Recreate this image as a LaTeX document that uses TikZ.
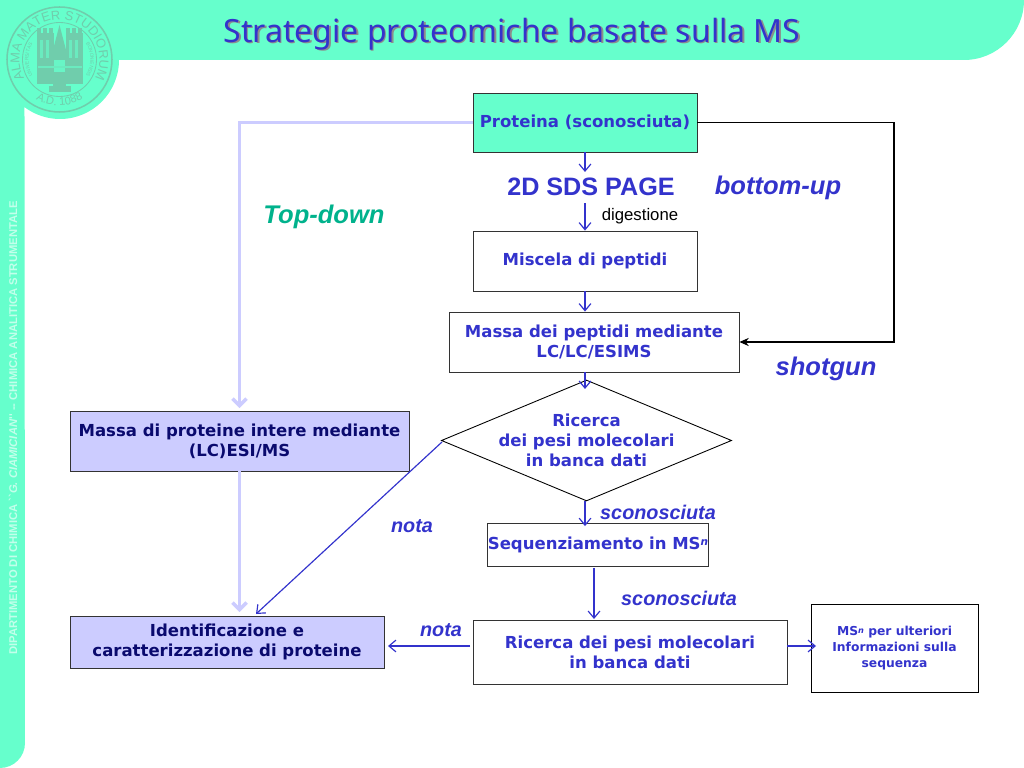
\documentclass[tikz,border=0pt]{standalone}
\usepackage{fontspec}
\setmainfont{DejaVu Sans}
\newfontfamily\arialFont{Liberation Sans}
\newfontfamily\titleFont{Noto Sans}
\usetikzlibrary{shapes.geometric,decorations.text,arrows.meta}
\definecolor{bandColor}{RGB}{102,255,204}
\definecolor{sealColor}{RGB}{112,205,172}
\definecolor{inkColor}{RGB}{51,51,204}
\definecolor{navyColor}{RGB}{10,10,110}
\definecolor{lilacColor}{RGB}{204,204,255}
\definecolor{sideColor}{RGB}{195,255,235}
\definecolor{greenTag}{RGB}{0,178,140}
\tikzstyle{plate} = [x = .03cm, y = -.03cm]
\tikzstyle{stepBox} = [draw=black!80, line width=.75pt, inner sep=0pt, align=center, text=inkColor, font=\fontsize{14.1}{17}\selectfont\bfseries]
\tikzstyle{blueArrow} = [draw=inkColor, line width=1pt, -{Straight Barb[length=6pt,width=10pt]}]
\tikzstyle{lilacArrow} = [draw=lilacColor, line width=3pt, -{Straight Barb[length=6pt,width=12pt]}]
\tikzstyle{blackArrow} = [draw=black, line width=1pt, -{Stealth[length=8pt,width=7pt]}]
\tikzstyle{tagText} = [text=inkColor, font=\arialFont\bfseries\itshape\fontsize{16.9}{20}\selectfont, inner sep=0pt]
\tikzstyle{bigTag} = [tagText, font=\arialFont\bfseries\itshape\fontsize{21.8}{26}\selectfont]
\tikzstyle{sealText} = [postaction={decorate}]
\newcommand{\stepNode}[7]{\node [stepBox, fill=#2, minimum width=#5*.03cm, minimum height=#6*.03cm] (#1) at (#3, #4) {#7};}
\begin{document}
\begin{tikzpicture}[plate]
  \useasboundingbox (0,0) rectangle (1024,768);
  % band and seal
  \fill [bandColor] (0,0) -- (1024,0) arc [start angle=0, end angle=90, radius=60] -- (119,60)
    arc [start angle=0, end angle=127, radius=59] -- (25,743)
    arc [start angle=0, end angle=90, radius=25] -- cycle;
  \begin{scope}[sealColor]
    \draw [line width=1.3pt] (59.5,59.5) circle [radius=52.5];
    \draw [line width=.7pt] (59.5,59.5) circle [radius=37];
    \path [sealText, decoration={text along path, text align=center,
      text={|\arialFont\fontsize{11}{13}\selectfont\color{sealColor}|ALMA MATER STUDIORUM}}]
      (59.5,59.5) ++(150:40) arc [start angle=150, delta angle=240, radius=40];
    \path [sealText, decoration={text along path, text align=center,
      text={|\arialFont\fontsize{9.5}{11}\selectfont\color{sealColor}|A.D. 1088}}]
      (59.5,59.5) ++(130:46) arc [start angle=130, delta angle=-80, radius=46];
    \path [sealText, decoration={text along path, text align=center,
      text={|\arialFont\fontsize{4.2}{5}\selectfont\color{sealColor}|UNIVERSITAS}}]
      (59.5,59.5) ++(145:31) arc [start angle=145, delta angle=70, radius=31];
    \path [sealText, decoration={text along path, text align=center,
      text={|\arialFont\fontsize{4.2}{5}\selectfont\color{sealColor}|BONONIENSIS}}]
      (59.5,59.5) ++(-35:31) arc [start angle=-35, delta angle=70, radius=31];
    \fill (37,33) rectangle (54,84);
    \fill (66,33) rectangle (83,84);
    \foreach \merlon in {37,43,49,66,72,78} {
      \fill (\merlon,28) rectangle +(4,6);
    }
    \fill (53,50) -- (59.5,25) -- (66,50) -- cycle;
    \fill (53,50) rectangle (66,88);
    \fill (49,86) rectangle (71,92);
    \fill [bandColor!80!sealColor] (54,60) rectangle (65,72);
    \fill [bandColor!60!sealColor] (38,66) rectangle (82,68);
    \foreach \cell in {40,46,69,75} {
      \fill [bandColor!60!sealColor] (\cell,40) rectangle +(3,18);
    }
  \end{scope}
  % title and side text
  \node [text=black!45, font=\titleFont\fontsize{27.3}{32}\selectfont, inner sep=0pt] (titleShade) at (513.5,35) {Strategie proteomiche basate sulla MS};
  \node [text=inkColor, font=\titleFont\fontsize{27.3}{32}\selectfont, inner sep=0pt] (title) at (512,34) {Strategie proteomiche basate sulla MS};
  \node [rotate=90, text=sideColor, font=\arialFont\bfseries\fontsize{9.6}{11}\selectfont, inner sep=0pt] (sideText) at (13,428) {DIPARTIMENTO DI CHIMICA ``\textit{G. CIAMICIAN}'' -- CHIMICA ANALITICA STRUMENTALE};
  % boxes
  \stepNode{proteina}{bandColor}{585}{122.5}{224}{59}{Proteina (sconosciuta)}
  \stepNode{miscela}{white}{585}{261}{224}{60}{Miscela di peptidi}
  \stepNode{massaPeptidi}{white}{594}{342}{290}{60}{Massa dei peptidi mediante\\LC/LC/ESIMS}
  \node [stepBox, draw=black, shape=diamond, aspect=2.4, fill=white, inner sep=-1.5pt] (ricercaPesi) at (586.5,440.5) {Ricerca\\dei pesi molecolari\\in banca dati};
  \stepNode{massaProteine}{lilacColor}{239.5}{441}{339}{60}{\textcolor{navyColor}{Massa di proteine intere mediante}\\\textcolor{navyColor}{(LC)ESI/MS}}
  \stepNode{sequenza}{white}{598}{544.5}{218}{43}{Sequenziamento in MS\textit{\fontsize{9}{9}\selectfont\raisebox{3pt}{n}}}
  \stepNode{identifica}{lilacColor}{227}{642}{314}{52}{\textcolor{navyColor}{Identificazione e}\\\textcolor{navyColor}{caratterizzazione di proteine}}
  \stepNode{ricercaBanca}{white}{630}{652}{314}{64}{Ricerca dei pesi molecolari\\in banca dati}
  \node [stepBox, draw=black, fill=white, minimum width=167*.03cm, minimum height=88*.03cm, font=\fontsize{10.5}{13.7}\selectfont\bfseries] (ulteriori) at (894.5,648) {MS\textit{\fontsize{7}{8}\selectfont\raisebox{2pt}{n}} per ulteriori\\Informazioni sulla\\sequenza};
  % free labels
  \node [text=inkColor, font=\arialFont\bfseries\fontsize{21.5}{26}\selectfont, inner sep=0pt] (sdsPage) at (591,187) {2D SDS PAGE};
  \node [font=\arialFont\fontsize{14.3}{17}\selectfont, inner sep=0pt] (digestione) at (640,216) {digestione};
  \node [bigTag] (bottomUp) at (778,188) {bottom-up};
  \node [bigTag] (shotgun) at (826,369) {shotgun};
  \node [bigTag, text=greenTag] (topDown) at (324,217) {Top-down};
  \node [tagText] (notaLeft) at (412,526) {nota};
  \node [tagText] (notaLow) at (441,630) {nota};
  \node [tagText] (sconoTop) at (658,512) {sconosciuta};
  \node [tagText] (sconoLow) at (679,598) {sconosciuta};
  % connectors
  \coordinate (lilacBend) at (239.5,122.5);
  \coordinate (blackTop) at (894,122.5);
  \coordinate (blackLow) at (894,342);
  \coordinate (seqOut) at (594,568);
  \coordinate (seqIn) at (594,619);
  \coordinate (ricOutLeft) at (470,646);
  \coordinate (ricInLeft) at (388,646);
  \coordinate (ricOutRight) at (787,646);
  \coordinate (ricInRight) at (816,646);
  \coordinate (diamondOut) at (442,442);
  \coordinate (notaEnd) at (256,614);
  \draw [lilacArrow, shorten >=2pt] (proteina.west) -- (lilacBend) -- (massaProteine.north);
  \draw [lilacArrow, shorten >=3pt] (massaProteine.south) -- (identifica.north -| massaProteine.south);
  \draw [blackArrow] (proteina.east) -- (blackTop) -- (blackLow) -- (massaPeptidi.east);
  \draw [blueArrow, shorten >=5pt] (proteina.south) -- (sdsPage.north -| proteina.south);
  \draw [blueArrow, shorten <=6pt] (sdsPage.south -| proteina.south) -- (miscela.north);
  \draw [blueArrow] (miscela.south) -- (miscela.south |- massaPeptidi.north);
  \draw [blueArrow] (massaPeptidi.south -| miscela.south) -- ([yshift=-8pt]ricercaPesi.north -| miscela.south);
  \draw [blueArrow, shorten >=-3pt] (ricercaPesi.south -| miscela.south) -- (sequenza.north -| miscela.south);
  \draw [blueArrow] (seqOut) -- (seqIn);
  \draw [blueArrow] (ricOutLeft) -- (ricInLeft);
  \draw [blueArrow] (ricOutRight) -- (ricInRight);
  \draw [blueArrow] (diamondOut) -- (notaEnd);
\end{tikzpicture}
\end{document}
